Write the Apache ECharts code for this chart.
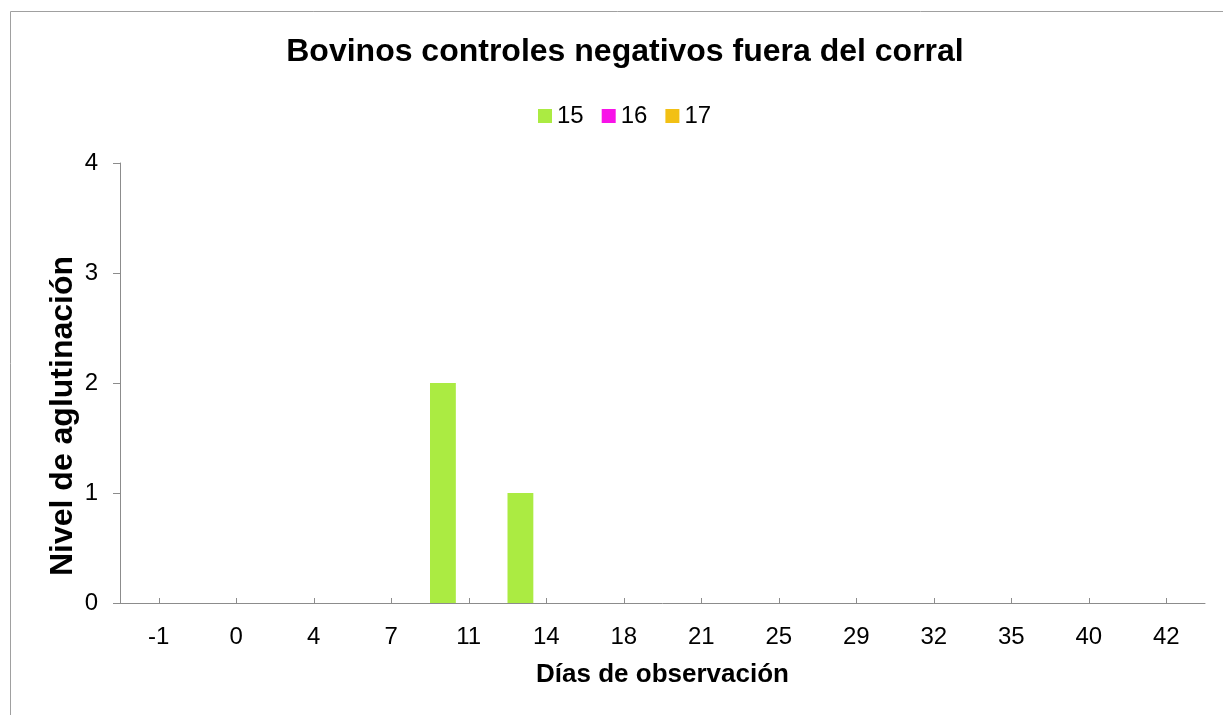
<!DOCTYPE html>
<html>
<head>
<meta charset="utf-8">
<script src="https://cdn.jsdelivr.net/npm/echarts@6/dist/echarts.min.js"></script>
<style>
html,body{margin:0;padding:0;background:#fff;}
#chart{width:1223px;height:715px;}
</style>
</head>
<body>
<div id="chart"></div>
<script>
const categories = ['-1','0','4','7','11','14','18','21','25','29','32','35','40','42'];
const seriesNames = ['15','16','17'];
const s15 = [0,0,0,0,2,1,0,0,0,0,0,0,0,0];
const s16 = [0,0,0,0,0,0,0,0,0,0,0,0,0,0];
const s17 = [0,0,0,0,0,0,0,0,0,0,0,0,0,0];
const yTicks = [0,1,2,3,4];
const colors = ['#ABEB42','#F812E8','#F2C014'];

const FONT = '"Liberation Sans", Arial, sans-serif';
const chart = echarts.init(document.getElementById('chart'), null, {renderer:'canvas'});
const values = [s15, s16, s17];
chart.setOption({
  animation:false,
  textStyle:{fontFamily:FONT},
  title:{
    text:'Bovinos controles negativos fuera del corral',
    left:620, top:31, textAlign:'center',
    textStyle:{fontSize:32, fontWeight:'bold', color:'#000', fontFamily:FONT}
  },
  legend:{
    left:533, top:99,
    itemWidth:14, itemHeight:14, itemGap:18,
    icon:'rect',
    textStyle:{fontSize:24, color:'#000', fontFamily:FONT},
    data:seriesNames
  },
  graphic:[{
    type:'rect', silent:true, z:-10,
    shape:{x:10.5, y:11.5, width:1300, height:800},
    style:{fill:'none', stroke:'#a0a0a0', lineWidth:1}
  }],
  grid:{left:120, right:18, top:163, bottom:112, containLabel:false},
  xAxis:{
    type:'category',
    data:categories,
    boundaryGap:true,
    name:'Días de observación',
    nameLocation:'middle',
    nameGap:59,
    nameMoveOverlap:false,
    nameTextStyle:{fontSize:26, fontWeight:'bold', color:'#000', fontFamily:FONT},
    axisLine:{lineStyle:{color:'#8c8c8c', width:1}},
    axisTick:{show:true, inside:true, length:5, alignWithLabel:true, lineStyle:{color:'#8c8c8c'}},
    axisLabel:{fontSize:24, color:'#000', margin:22, fontFamily:FONT, interval:0},
    splitLine:{show:false}
  },
  yAxis:{
    type:'value',
    min:yTicks[0], max:yTicks[yTicks.length-1], interval:1,
    name:'Nivel de aglutinación',
    nameLocation:'middle',
    nameGap:41,
    nameMoveOverlap:false,
    nameRotate:90,
    nameTextStyle:{fontSize:32, fontWeight:'bold', color:'#000', fontFamily:FONT, padding:[0,66,0,0]},
    axisLine:{show:true, lineStyle:{color:'#8c8c8c', width:1}},
    axisTick:{show:true, inside:false, length:7, lineStyle:{color:'#8c8c8c'}},
    axisLabel:{fontSize:24, color:'#000', margin:22, fontFamily:FONT},
    splitLine:{show:false}
  },
  series: seriesNames.map((n,i)=>({
    name:n, type:'bar', data:values[i],
    itemStyle:{color:colors[i]},
    barGap:'0%', barCategoryGap:'0%'
  }))
});
</script>
</body>
</html>
